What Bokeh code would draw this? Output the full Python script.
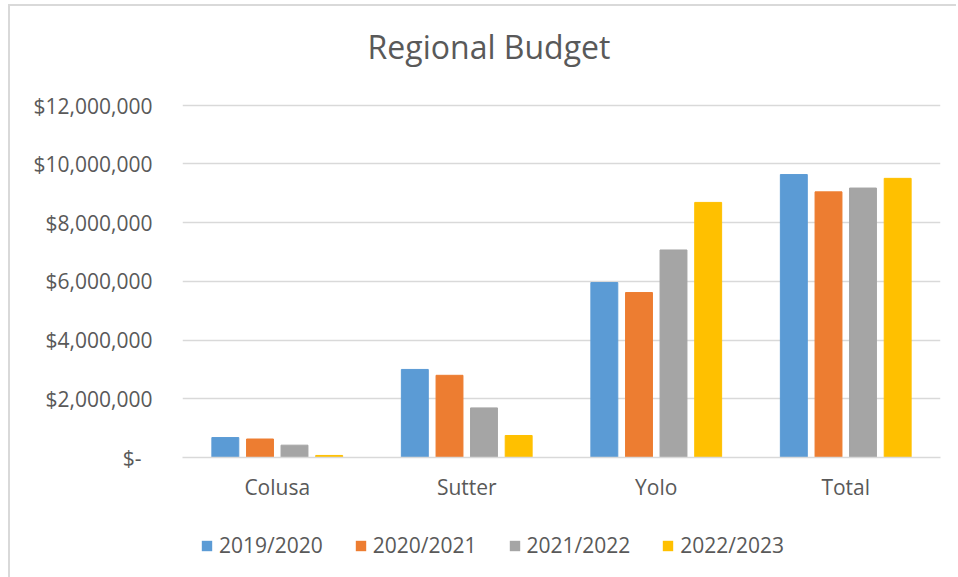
from bokeh.plotting import figure
from bokeh.layouts import column
from bokeh.models import ColumnDataSource, CustomJSTickFormatter, Legend, Div, Range1d
from bokeh.transform import dodge
from bokeh.embed import file_html
from bokeh.resources import INLINE

title_text = "Regional Budget"
categories = ["Colusa", "Sutter", "Yolo", "Total"]
series_names = ["2019/2020", "2020/2021", "2021/2022", "2022/2023"]
fy_2019_2020 = [680000, 3000000, 5960000, 9640000]
fy_2020_2021 = [630000, 2800000, 5620000, 9050000]
fy_2021_2022 = [420000, 1690000, 7070000, 9180000]
fy_2022_2023 = [70000, 750000, 8690000, 9510000]
y_ticks = [0, 2000000, 4000000, 6000000, 8000000, 10000000, 12000000]
colors = ["#5B9BD5", "#ED7D31", "#A5A5A5", "#FFC000"]
offsets = [-0.274, -0.091, 0.091, 0.274]

FONT = "Open Sans"
TXT = "#595959"
GRID = "#d9d9d9"

source = ColumnDataSource(dict(cat=categories, s0=fy_2019_2020, s1=fy_2020_2021,
                               s2=fy_2021_2022, s3=fy_2022_2023))
keys = ["s0", "s1", "s2", "s3"]

title = Div(text=('<div style="font-family:\'Open Sans\';font-size:32px;color:#595959;'
                  'text-align:center;width:946px;padding-top:19px;padding-left:12px;'
                  'line-height:44px;white-space:nowrap">' + title_text + '</div>'),
            width=946, height=85, margin=0)

p = figure(width=946, height=429, x_range=categories, y_range=(0, 12060000),
           output_backend="svg", toolbar_location=None,
           min_border_left=172, min_border_right=16, min_border_top=12, min_border_bottom=63,
           background_fill_color="white", border_fill_color="white")
p.outline_line_color = None

for i, key in enumerate(keys):
    p.vbar(x=dodge("cat", offsets[i], range=p.x_range), top=key, width=0.142,
           source=source, fill_color=colors[i], line_color=colors[i])

p.yaxis.formatter = CustomJSTickFormatter(code="""
if (tick == 0) { return "$-\u00a0\u00a0"; }
return "$" + Math.round(tick).toLocaleString("en-US");
""")
p.yaxis.ticker = y_ticks
p.yaxis.axis_line_color = None
p.yaxis.major_tick_line_color = None
p.yaxis.minor_tick_line_color = None
p.yaxis.major_label_text_font = FONT
p.yaxis.major_label_text_font_size = "21px"
p.yaxis.major_label_text_color = TXT
p.yaxis.major_label_standoff = 24

p.xaxis.axis_line_color = GRID
p.xaxis.axis_line_width = 1.5
p.xaxis.major_tick_line_color = None
p.xaxis.minor_tick_line_color = None
p.xaxis.major_label_text_font = FONT
p.xaxis.major_label_text_font_size = "21px"
p.xaxis.major_label_text_color = TXT
p.xaxis.major_label_standoff = 9

p.xgrid.grid_line_color = None
p.ygrid.grid_line_color = GRID
p.ygrid.grid_line_width = 1.5

# legend strip below the chart (same series, placed far out of view; only the legend shows)
lg = figure(width=946, height=57, output_backend="svg", toolbar_location=None,
            x_range=p.x_range, y_range=Range1d(50000000, 60000000),
            x_axis_type=None, y_axis_type=None, min_border=0,
            background_fill_color="white", border_fill_color="white")
lg.outline_line_color = None
lg.xgrid.grid_line_color = None
lg.ygrid.grid_line_color = None
items = []
for i, key in enumerate(keys):
    r = lg.vbar(x=dodge("cat", offsets[i], range=lg.x_range), top=key, width=0.142,
                source=source, fill_color=colors[i], line_color=None)
    items.append((series_names[i], [r]))
legend = Legend(items=items, orientation="horizontal", location=(18, 18),
                label_text_font=FONT, label_text_font_size="21px", label_text_color=TXT,
                glyph_width=13, glyph_height=13, label_standoff=6, spacing=31,
                border_line_color=None, background_fill_alpha=0, padding=0, margin=0)
lg.add_layout(legend, "center")

layout = column(title, p, lg, spacing=0)
layout.margin = (4, 0, 0, 8)
layout.styles = {"border-top": "2px solid #d9d9d9", "border-left": "2px solid #d9d9d9"}

open("out.html", "w").write(file_html(layout, INLINE))
